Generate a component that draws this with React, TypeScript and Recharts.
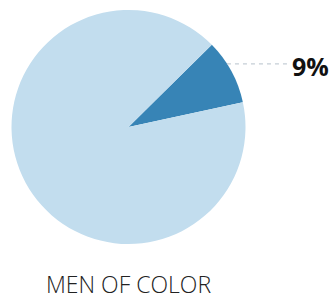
import React from 'react';
import { PieChart, Pie, Cell } from 'recharts';

const SLICE_NAMES = ['Men of color', 'Others'];
const SLICE_VALUES = [9, 91];
const SLICE_COLORS = ['#3784b6', '#c2ddee'];
const TITLE = 'MEN OF COLOR';

const chartData = SLICE_NAMES.map((name, i) => ({ name, value: SLICE_VALUES[i] }));

const RADIAN = Math.PI / 180;

// callout only on the highlighted slice
const renderLabel = (props: any) => {
  const { cx, cy, outerRadius, midAngle, index, value } = props;
  if (index !== 0) return null;
  const ang = (midAngle + 4.3) * RADIAN;
  const y = cy - outerRadius * Math.sin(ang);
  const x1 = cx + outerRadius * Math.cos(ang);
  const x2 = 287;
  return (
    <g>
      <line x1={x1} y1={y} x2={x2} y2={y} stroke="#c5ced6" strokeWidth={1.2} strokeDasharray="4 4" />
      <text
        x={x2 + 5}
        y={y + 12}
        fill="#111"
        fontFamily="'Open Sans', sans-serif"
        fontWeight={700}
        fontSize={25}
        textAnchor="start"
      >
        {value}%
      </text>
    </g>
  );
};

const App: React.FC = () => {
  return (
    <div style={{ position: 'absolute', left: 0, top: 0, width: 333, height: 297, background: '#fff' }}>
      <PieChart width={333} height={260} margin={{ top: 0, right: 0, bottom: 0, left: 0 }}>
        <Pie
          data={chartData}
          dataKey="value"
          nameKey="name"
          cx={128.5}
          cy={127}
          outerRadius={117}
          startAngle={12.2}
          endAngle={372.2}
          stroke="none"
          label={renderLabel}
          labelLine={false}
          isAnimationActive={false}
        >
          {chartData.map((entry, index) => (
            <Cell key={`cell-${index}`} fill={SLICE_COLORS[index]} />
          ))}
        </Pie>
      </PieChart>
      <div
        style={{
          position: 'absolute',
          left: 0,
          width: 257,
          top: 272,
          textAlign: 'center',
          fontFamily: "'Open Sans', sans-serif",
          fontWeight: 300,
          fontSize: 23,
          color: '#222',
          lineHeight: '24px',
        }}
      >
        {TITLE}
      </div>
    </div>
  );
};

export default App;
